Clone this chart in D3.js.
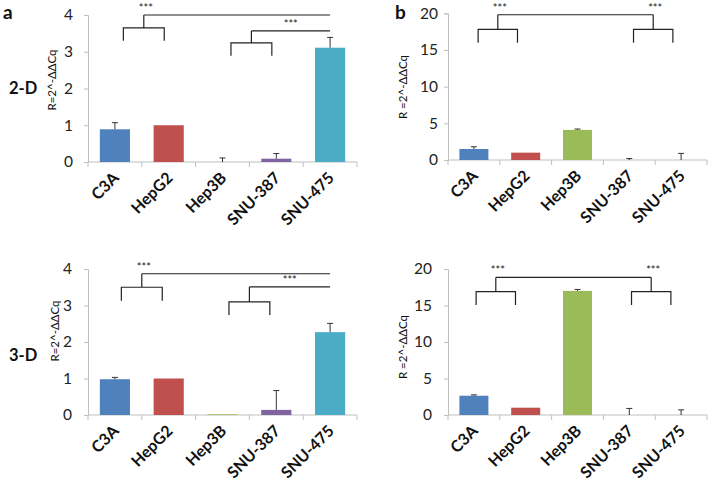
<!DOCTYPE html>
<html><head><meta charset="utf-8">
<script src="https://cdn.jsdelivr.net/npm/d3@7"></script>
<style>
body{margin:0;background:#fff;}
svg{display:block;}
</style></head>
<body>
<svg id="chart" width="709" height="480"></svg>
<script>
const categories = ["C3A","HepG2","Hep3B","SNU-387","SNU-475"];
const colors = ["#4F81BD","#C0504D","#9BBB59","#8064A2","#4BACC6"];

// Panel a (2-D)
const valuesA = [0.89, 1.0, 0.0, 0.09, 3.11];
const errorsA = [0.18, 0, 0.11, 0.14, 0.28];
const ticksA = [0,1,2,3,4];
// Panel b (2-D)
const valuesB = [1.5, 1.0, 4.1, 0.0, 0.0];
const errorsB = [0.3, 0, 0.12, 0.2, 0.9];
const ticksB = [0,5,10,15,20];
// Panel c (3-D)
const valuesC = [0.98, 1.0, 0.02, 0.14, 2.27];
const errorsC = [0.05, 0, 0, 0.53, 0.24];
const ticksC = [0,1,2,3,4];
// Panel d (3-D)
const valuesD = [2.64, 1.0, 17.0, 0.0, 0.0];
const errorsD = [0.12, 0, 0.2, 0.9, 0.7];
const ticksD = [0,5,10,15,20];

// significance brackets (values in data units)
const bracketsA = [
  {pair:["C3A","HepG2"], low:3.3, high:3.65, bar:4.0, end:"SNU-475", star:"stem"},
  {pair:["Hep3B","SNU-387"], low:2.89, high:3.24, bar:3.57, end:"SNU-475", star:"mid"}
];
const bracketsB = [
  {pair:["C3A","HepG2"], low:16, high:17.8, bar:19.8, endPair:["SNU-387","SNU-475"], star:"stem"},
  {pair:["SNU-387","SNU-475"], low:16, high:17.8, bar:19.8, star:"stem"}
];
const bracketsC = [
  {pair:["C3A","HepG2"], low:3.13, high:3.5, bar:3.87, end:"SNU-475", star:"stem"},
  {pair:["Hep3B","SNU-387"], low:2.74, high:3.1, bar:3.51, end:"SNU-475", star:"mid"}
];
const bracketsD = [
  {pair:["C3A","HepG2"], low:15.07, high:16.9, bar:18.85, endPair:["SNU-387","SNU-475"], star:"stem"},
  {pair:["SNU-387","SNU-475"], low:15.07, high:16.9, bar:18.85, star:"stem"}
];

const yLabelA = "R=2^-ΔΔCq";
const yLabelB = "R =2^-ΔΔCq";

const svg = d3.select("#chart");
const FONT = "Lato, 'Open Sans', sans-serif";
const AXIS = "#bfbfbf";

function panel(cfg){
  const g = svg.append("g");
  const x = d3.scaleBand().domain(categories).range([cfg.x0, cfg.x1]).paddingInner(0.44).paddingOuter(0.22);
  const y = d3.scaleLinear().domain([0, cfg.ymax]).range([cfg.yb, cfg.yt]);
  const step = x.step();
  const bound = c => x(c) - step*0.22;  // left boundary of category slot
  const cen = c => x(c) + x.bandwidth()/2;

  // y axis
  const ya = d3.axisLeft(y).tickValues(cfg.ticks).tickSize(4).tickPadding(cfg.tickPad).tickFormat(d3.format("d"));
  const yg = g.append("g").attr("transform",`translate(${cfg.x0},0)`).call(ya);
  yg.select(".domain").attr("stroke",AXIS);
  yg.selectAll(".tick line").attr("stroke",AXIS);
  yg.selectAll(".tick text").attr("font-family",FONT).attr("font-size",15.5).attr("fill","#222");

  // x axis line and ticks at boundaries
  g.append("line").attr("x1",cfg.x0).attr("x2",cfg.x1).attr("y1",cfg.yb).attr("y2",cfg.yb).attr("stroke",AXIS);
  const bounds = categories.map(bound).concat([cfg.x1]);
  g.selectAll(".xt").data(bounds).enter().append("line")
    .attr("x1",d=>d).attr("x2",d=>d).attr("y1",cfg.yb).attr("y2",cfg.yb+5).attr("stroke",AXIS);

  // bars
  g.selectAll(".bar").data(categories).enter().append("rect")
    .attr("x",c=>x(c)).attr("width",x.bandwidth())
    .attr("y",(c,i)=>y(cfg.values[i])).attr("height",(c,i)=>y(0)-y(cfg.values[i]))
    .attr("fill",(c,i)=>colors[i]);

  // error bars
  categories.forEach((c,i)=>{
    const e = cfg.errors[i];
    if(!e) return;
    const cx = cen(c), y0 = y(cfg.values[i]), y1 = y(cfg.values[i]+e);
    g.append("line").attr("x1",cx).attr("x2",cx).attr("y1",y0).attr("y2",y1).attr("stroke","#333").attr("stroke-width",1);
    g.append("line").attr("x1",cx-3).attr("x2",cx+3).attr("y1",y1).attr("y2",y1).attr("stroke","#333").attr("stroke-width",1);
  });

  // category labels
  g.selectAll(".cl").data(categories).enter().append("text")
    .attr("transform",c=>`translate(${cen(c)+5},${cfg.yb+17}) rotate(-45)`)
    .attr("text-anchor","end").attr("font-family",FONT).attr("font-weight","bold")
    .attr("font-size",16).attr("fill","#111").text(c=>c);

  // brackets
  const stemX = b => bound(b.pair[1]) + (cfg.stemShift||0);
  cfg.brackets.forEach(b=>{
    const sx = stemX(b), hw = step*0.38;
    const path = d3.path();
    path.moveTo(sx-hw, y(b.low)); path.lineTo(sx-hw, y(b.high)); path.lineTo(sx+hw, y(b.high)); path.lineTo(sx+hw, y(b.low));
    path.moveTo(sx, y(b.high)); path.lineTo(sx, y(b.bar));
    let ex = null;
    if(b.end){ ex = cen(b.end); }
    if(b.endPair){ ex = bound(b.endPair[1]) + (cfg.stemShift||0); }
    if(ex!==null){ path.moveTo(sx, y(b.bar)); path.lineTo(ex, y(b.bar)); }
    g.append("path").attr("d",path.toString()).attr("fill","none").attr("stroke","#222").attr("stroke-width",1.2);
    const tx = b.star==="stem" ? sx+2 : (sx+ex)/2;
    g.append("text").attr("x",tx).attr("y",y(b.bar)-3).attr("text-anchor","middle")
      .attr("font-family",FONT).attr("font-size",11).attr("fill","#222").text("***");
  });

  // y label
  g.append("text").attr("transform",`translate(${cfg.ylx},${cfg.yly}) rotate(-90)`)
    .attr("text-anchor","middle").attr("font-family",FONT).attr("font-size",11.5).attr("fill","#111").text(cfg.ylabel);
}

panel({x0:88,x1:357,yb:162,yt:15,ymax:4,ticks:ticksA,tickPad:11,values:valuesA,errors:errorsA,brackets:bracketsA,ylabel:yLabelA,ylx:56,yly:80,stemShift:2});
panel({x0:448,x1:707,yb:160,yt:13.3,ymax:20,ticks:ticksB,tickPad:6,values:valuesB,errors:errorsB,brackets:bracketsB,ylabel:yLabelB,ylx:407,yly:87,stemShift:-2});
panel({x0:88,x1:357,yb:415,yt:269,ymax:4,ticks:ticksC,tickPad:12,values:valuesC,errors:errorsC,brackets:bracketsC,ylabel:yLabelA,ylx:59,yly:331,stemShift:0});
panel({x0:448,x1:707,yb:415,yt:269,ymax:20,ticks:ticksD,tickPad:12,values:valuesD,errors:errorsD,brackets:bracketsD,ylabel:yLabelB,ylx:407,yly:347,stemShift:-4});

// panel letters and row labels
svg.append("text").attr("x",3).attr("y",19).attr("font-family",FONT).attr("font-weight","bold").attr("font-size",19).attr("fill","#111").text("a");
svg.append("text").attr("x",395).attr("y",19).attr("font-family",FONT).attr("font-weight","bold").attr("font-size",19).attr("fill","#111").text("b");
svg.append("text").attr("x",9).attr("y",94).attr("font-family",FONT).attr("font-weight","bold").attr("font-size",16.5).attr("fill","#111").text("2-D");
svg.append("text").attr("x",9).attr("y",361).attr("font-family",FONT).attr("font-weight","bold").attr("font-size",16.5).attr("fill","#111").text("3-D");
</script>
</body></html>
